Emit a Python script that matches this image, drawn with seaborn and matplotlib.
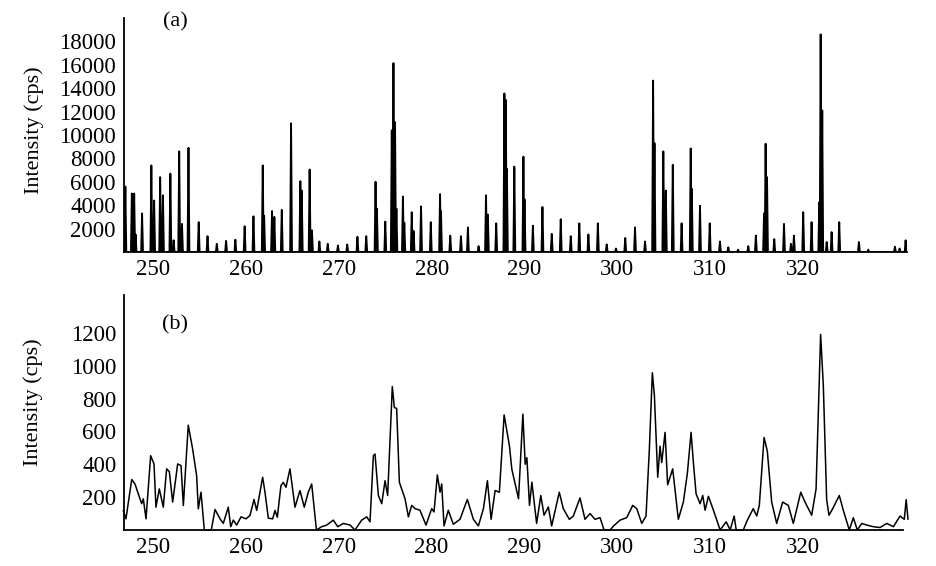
import numpy as np
import pandas as pd
import matplotlib
matplotlib.use("Agg")
import matplotlib.pyplot as plt
import seaborn as sns

# ---------------- data ----------------
# (a) line spectrum: peak wavelengths (nm) and intensities (cps)
top_peak_wl = [246.88, 247.0, 247.7, 247.95, 248.1, 248.8, 249.8, 250.1, 250.75, 251.05,
               251.85, 252.2, 252.8, 253.1, 253.8, 254.9, 255.85, 256.85, 257.85, 258.85,
               259.85, 260.8, 261.8, 261.95, 262.8, 263.05, 263.85, 264.85, 265.85, 266.0,
               266.85, 267.1, 267.9, 268.8, 269.9, 270.9, 272.0, 272.95, 273.95, 274.1,
               275.0, 275.7, 275.88, 276.05, 276.2, 276.9, 277.05, 277.85, 278.05, 278.85,
               279.9, 280.9, 281.0, 282.0, 283.15, 283.9, 285.05, 285.85, 286.05, 286.95,
               287.83, 287.98, 288.1, 288.9, 289.88, 290.0, 290.9, 291.93, 292.93, 293.9,
               294.98, 295.9, 296.88, 297.9, 298.85, 299.85, 300.85, 301.9, 302.98, 303.85,
               304.0, 304.95, 305.22, 305.97, 306.92, 307.9, 308.02, 308.9, 309.95, 311.05,
               311.95, 313.0, 314.1, 314.92, 315.8, 315.97, 316.12, 316.9, 317.95, 318.7,
               319.02, 320.02, 320.92, 321.75, 321.9, 322.07, 322.55, 323.08, 323.9, 326.02,
               327.03, 329.9, 330.4, 331.05]
top_peak_int = [1400, 5600, 5000, 5000, 1500, 3300, 7400, 4400, 6400, 4850,
                6700, 1000, 8600, 2400, 8900, 2550, 1350, 700, 950, 1050,
                2200, 3050, 7400, 3100, 3500, 3000, 3600, 11000, 6050, 5250,
                7050, 1850, 900, 700, 550, 650, 1300, 1350, 6000, 3700,
                2600, 10400, 16150, 11100, 3700, 4750, 2500, 3400, 1800, 3900,
                2550, 4950, 3500, 1400, 1350, 2100, 500, 4850, 3200, 2450,
                13550, 13000, 7100, 7300, 8150, 4500, 2250, 3850, 1550, 2800,
                1350, 2450, 1500, 2450, 650, 300, 1200, 2100, 900, 14650,
                9300, 8600, 5250, 7450, 2450, 8850, 5400, 3950, 2450, 900,
                400, 200, 500, 1400, 3300, 9250, 6400, 1100, 2400, 700,
                1400, 3400, 2550, 4250, 18600, 12100, 850, 1700, 2550, 850,
                200, 450, 300, 1000]

# (b) continuous spectrum
bot_wl = [246.8, 247.09, 247.71, 248.06, 248.78, 248.96, 249.25, 249.75, 250.11, 250.32,
          250.68, 251.11, 251.47, 251.76, 252.12, 252.66, 253.02, 253.27, 253.8, 254.27,
          254.7, 254.88, 255.17, 255.53, 256.28, 256.68, 257.22, 257.57, 258.11, 258.37,
          258.65, 259.01, 259.48, 260.02, 260.45, 260.88, 261.17, 261.81, 262.06, 262.42,
          262.89, 263.14, 263.39, 263.78, 264.03, 264.32, 264.75, 265.29, 265.83, 266.29,
          266.72, 267.09, 267.6, 268.17, 268.7, 269.42, 269.89, 270.5, 271.22, 271.75,
          272.47, 273.01, 273.37, 273.73, 273.91, 274.27, 274.63, 274.99, 275.27, 275.77,
          275.99, 276.24, 276.53, 277.14, 277.5, 277.86, 278.22, 278.75, 279.4, 280.01,
          280.26, 280.62, 280.91, 281.09, 281.34, 281.8, 282.34, 283.06, 283.85, 284.5,
          285.04, 285.58, 286.01, 286.41, 286.84, 287.3, 287.81, 288.38, 288.64, 289.0,
          289.36, 289.83, 290.08, 290.26, 290.54, 290.8, 291.31, 291.76, 292.11, 292.57,
          292.93, 293.75, 294.18, 294.83, 295.26, 295.98, 296.52, 297.06, 297.6, 298.14,
          298.57, 299.22, 299.6, 300.29, 301.01, 301.66, 302.09, 302.63, 303.09, 303.45,
          303.77, 303.99, 304.35, 304.6, 304.78, 305.14, 305.42, 305.96, 306.57, 307.11,
          307.54, 307.94, 308.19, 308.48, 308.91, 309.2, 309.45, 309.81, 310.35, 311.07,
          311.72, 312.15, 312.58, 312.8, 313.56, 314.0, 314.64, 315.01, 315.29, 315.8,
          316.15, 316.62, 317.16, 317.8, 318.41, 318.95, 319.75, 320.21, 320.93, 321.4,
          321.89, 322.18, 322.54, 322.79, 323.19, 323.9, 324.33, 324.98, 325.41, 325.84,
          326.32, 326.86, 327.57, 328.29, 329.01, 329.73, 330.44, 330.9, 331.1, 331.3]
bot_int = [119, 68, 307, 280, 160, 190, 68, 452, 402, 139,
           250, 139, 372, 355, 170, 402, 392, 149, 638, 493,
           331, 129, 230, 0, 0, 125, 68, 40, 139, 20,
           60, 30, 80, 68, 89, 186, 119, 321, 230, 72,
           68, 119, 78, 270, 290, 260, 372, 139, 240, 139,
           230, 280, 0, 20, 30, 60, 20, 40, 30, 0,
           60, 80, 50, 452, 462, 210, 160, 300, 210, 873,
           745, 740, 291, 190, 80, 150, 130, 120, 30, 130,
           110, 335, 230, 280, 25, 120, 35, 65, 186, 65,
           25, 130, 300, 65, 240, 230, 700, 513, 370, 280,
           190, 705, 400, 440, 150, 291, 40, 210, 90, 140,
           25, 230, 130, 65, 85, 195, 65, 100, 65, 75,
           0, 0, 25, 60, 75, 150, 130, 40, 85, 493,
           957, 820, 321, 510, 410, 594, 275, 372, 65, 170,
           345, 594, 410, 220, 160, 210, 120, 205, 120, 0,
           50, 0, 85, 0, 0, 60, 130, 85, 150, 563,
           480, 170, 40, 170, 150, 40, 230, 170, 90, 250,
           1190, 880, 185, 90, 130, 210, 120, 0, 75, 0,
           40, 30, 20, 15, 40, 20, 85, 65, 185, 65]

x_ticks = [250, 260, 270, 280, 290, 300, 310, 320]
top_yticks = [2000, 4000, 6000, 8000, 10000, 12000, 14000, 16000, 18000]
bot_yticks = [200, 400, 600, 800, 1000, 1200]
y_label = "Intensity (cps)"
panel_labels = ["(a)", "(b)"]

# ---------------- style ----------------
sns.set_theme(style="white")
plt.rcParams["font.family"] = ["Liberation Serif", "DejaVu Serif"]

W, H = 936, 566
fig = plt.figure(figsize=(W / 100, H / 100), dpi=100)
fig.patch.set_facecolor("white")

ax1 = fig.add_axes([123.5 / W, 1 - 252 / H, (907 - 123.5) / W, (252 - 18) / H])
ax2 = fig.add_axes([124 / W, 1 - 530 / H, (903 - 124) / W, (530 - 295) / H])

# build stick series for (a) from the peak table
half_w = 0.1
order = np.argsort(top_peak_wl)
pk_x = np.asarray(top_peak_wl, float)[order]
pk_y = np.asarray(top_peak_int, float)[order]
stick_x = np.column_stack([pk_x - half_w, pk_x, pk_x + half_w]).ravel()
stick_y = np.column_stack([np.zeros_like(pk_y), pk_y, np.zeros_like(pk_y)]).ravel()
df_top = pd.DataFrame({"wl": stick_x, "I": stick_y})
df_bot = pd.DataFrame({"wl": bot_wl, "I": bot_int})

sns.lineplot(data=df_top, x="wl", y="I", ax=ax1, color="black", lw=1.35,
             estimator=None, sort=False)
sns.lineplot(data=df_bot, x="wl", y="I", ax=ax2, color="black", lw=1.1,
             estimator=None, sort=False, clip_on=False)

ax1.set_xlim(246.8, 331.2)
ax1.set_ylim(0, 20000)
ax2.set_xlim(246.88, 330.76)
ax2.set_ylim(0, 1430)

for ax, yt in ((ax1, top_yticks), (ax2, bot_yticks)):
    ax.set_xticks(x_ticks)
    ax.set_xticklabels([str(t) for t in x_ticks])
    ax.set_yticks(yt)
    ax.set_yticklabels([str(t) for t in yt])
    ax.tick_params(axis="both", length=0, labelsize=16.5, colors="black")
    ax.tick_params(axis="x", pad=5)
    ax.tick_params(axis="y", pad=5.5)
    ax.set_xlabel("")
    ax.set_ylabel(y_label, fontsize=16, color="black")
    sns.despine(ax=ax)
    for s in ("left", "bottom"):
        ax.spines[s].set_color("black")
        ax.spines[s].set_linewidth(1.3)
    ax.set_facecolor("white")
    ax.grid(False)

ax1.yaxis.set_label_coords(-0.1015, 0.521)
ax2.yaxis.set_label_coords(-0.104, 0.545)

ax1.text(0.0665, 0.985, panel_labels[0], transform=ax1.transAxes, ha="center",
         va="center", fontsize=16, color="black")
ax2.text(0.065, 0.872, panel_labels[1], transform=ax2.transAxes, ha="center",
         va="center", fontsize=16, color="black")

fig.savefig("out.png", dpi=100, facecolor="white")
